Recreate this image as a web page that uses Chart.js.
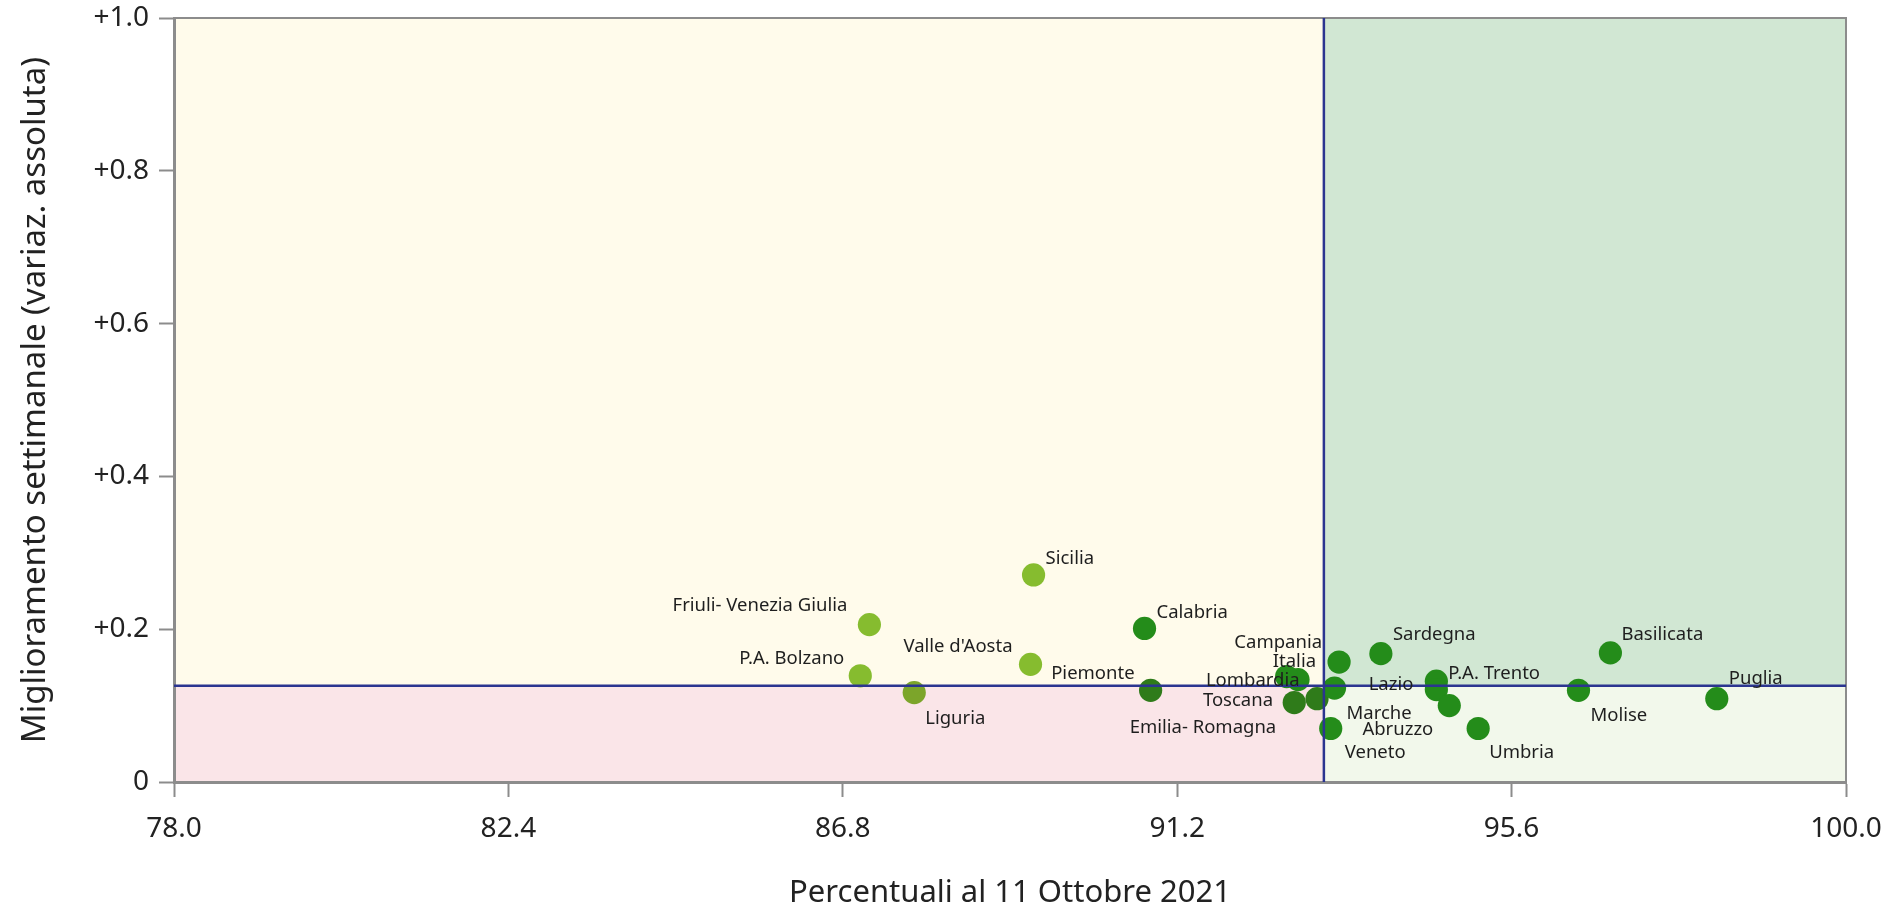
<!DOCTYPE html>
<html>
<head>
<meta charset="utf-8">
<script src="https://cdn.jsdelivr.net/npm/chart.js@4"></script>
<style>
  html, body { margin: 0; padding: 0; background: #fff; }
  #wrap { width: 1885px; height: 912px; position: relative; }
</style>
</head>
<body>
<div id="wrap"><canvas id="scatterChart"></canvas></div>
<script>
// data
const regions = ["Sicilia", "Friuli- Venezia Giulia", "Valle d'Aosta", "P.A. Bolzano", "Liguria",
    "Piemonte", "Calabria", "Campania", "Italia", "Lombardia", "Toscana", "Emilia- Romagna",
    "Veneto", "Marche", "Sardegna", "Lazio", "P.A. Trento", "Abruzzo", "Umbria", "Molise",
    "Basilicata", "Puglia"];
const coverage = [89.31, 87.15, 89.27, 87.03, 87.74, 90.85, 90.77, 93.33, 92.79, 92.64, 93.04, 92.74,
    93.22, 93.27, 93.88, 94.61, 94.61, 94.78, 95.16, 96.48, 96.90, 98.30];
const weeklyChange = [0.271, 0.206, 0.154, 0.139, 0.117, 0.120, 0.201, 0.157, 0.134, 0.138, 0.109, 0.104,
    0.070, 0.123, 0.168, 0.132, 0.121, 0.100, 0.070, 0.120, 0.169, 0.109];
const xTicks = [78.0, 82.4, 86.8, 91.2, 95.6, 100.0];
const yTicks = [0, 0.2, 0.4, 0.6, 0.8, 1.0];
const refX = 93.13;
const refY = 0.126;

// where each label sits next to its dot: [dx, dy, align]
const labelPlacement = {
    "Sicilia": [12, -16, "left"],
    "Friuli- Venezia Giulia": [-22, -19, "right"],
    "Valle d'Aosta": [-18, -18, "right"],
    "P.A. Bolzano": [-16, -17, "right"],
    "Liguria": [11, 26, "left"],
    "Piemonte": [-16, -17, "right"],
    "Calabria": [12, -16, "left"],
    "Campania": [-17, -19, "right"],
    "Italia": [18, -18, "right"],
    "Lombardia": [13, 4, "right"],
    "Toscana": [-44, 2, "right"],
    "Emilia- Romagna": [-18, 25, "right"],
    "Veneto": [14, 24, "left"],
    "Marche": [12, 26, "left"],
    "Sardegna": [12, -19, "left"],
    "Lazio": [-23, 4, "right"],
    "P.A. Trento": [12, -16, "left"],
    "Abruzzo": [-16, 24, "right"],
    "Umbria": [11, 24, "left"],
    "Molise": [12, 25, "left"],
    "Basilicata": [11, -18, "left"],
    "Puglia": [12, -20, "left"]
};

const axisGray = "#8c8c8c";
const refBlue = "#2b3590";

const quadrants = {
    id: "quadrants",
    beforeDraw(chart) {
        const { ctx, chartArea: a, scales } = chart;
        const mx = scales.x.getPixelForValue(refX);
        const my = scales.y.getPixelForValue(refY);
        ctx.save();
        ctx.fillStyle = "#fffbeb";
        ctx.fillRect(a.left, a.top, mx - a.left, my - a.top);
        ctx.fillStyle = "#d1e7d3";
        ctx.fillRect(mx, a.top, a.right - mx, my - a.top);
        ctx.fillStyle = "#fae5e8";
        ctx.fillRect(a.left, my, mx - a.left, a.bottom - my);
        ctx.fillStyle = "#f2f8eb";
        ctx.fillRect(mx, my, a.right - mx, a.bottom - my);
        // top and right frame
        ctx.strokeStyle = axisGray;
        ctx.lineWidth = 2;
        ctx.beginPath();
        ctx.moveTo(a.left, a.top);
        ctx.lineTo(a.right, a.top);
        ctx.lineTo(a.right, a.bottom);
        ctx.stroke();
        ctx.restore();
    },
    afterDatasetsDraw(chart) {
        const { ctx, chartArea: a, scales } = chart;
        const mx = scales.x.getPixelForValue(refX);
        const my = scales.y.getPixelForValue(refY);
        ctx.save();
        ctx.strokeStyle = refBlue;
        ctx.lineWidth = 2.5;
        ctx.beginPath();
        ctx.moveTo(mx, a.top);
        ctx.lineTo(mx, a.bottom);
        ctx.moveTo(a.left, my);
        ctx.lineTo(a.right, my);
        ctx.stroke();

        ctx.font = "18.5px 'Noto Sans'";
        ctx.fillStyle = "#1e1e1e";
        ctx.textBaseline = "middle";
        const meta = chart.getDatasetMeta(0);
        meta.data.forEach((pt, i) => {
            const place = labelPlacement[regions[i]] || [12, -16, "left"];
            ctx.textAlign = place[2];
            ctx.fillText(regions[i], pt.x + place[0], pt.y + place[1]);
        });
        ctx.restore();
    }
};

function dotColor(c) {
    const p = c.raw;
    if (!p) return "#248c1a";
    if (p.x < 90) return p.y < refY ? "#7ca52a" : "#86bc2f";
    return (p.y < refY && p.x < refX) ? "#2f7b1a" : "#248c1a";
}

const points = regions.map((r, i) => ({ x: coverage[i], y: weeklyChange[i] }));

new Chart(document.getElementById("scatterChart"), {
    type: "scatter",
    data: {
        datasets: [{
            data: points,
            backgroundColor: dotColor,
            borderWidth: 0,
            pointRadius: 11.6,
            pointHoverRadius: 11.6
        }]
    },
    plugins: [quadrants],
    options: {
        responsive: true,
        maintainAspectRatio: false,
        animation: false,
        events: [],
        layout: { padding: { top: 18, right: 39, left: 0, bottom: 0 } },
        plugins: {
            legend: { display: false },
            tooltip: { enabled: false }
        },
        scales: {
            x: {
                type: "linear",
                min: 78,
                max: 100,
                afterFit: s => {
                    s.height = 130;
                    s.paddingLeft = 0;
                    s.paddingRight = 0;
                },
                afterBuildTicks: s => { s.ticks = xTicks.map(v => ({ value: v })); },
                grid: { drawOnChartArea: false, tickLength: 15, tickWidth: 2, color: axisGray },
                border: { display: true, color: axisGray, width: 3 },
                ticks: {
                    color: "#222",
                    padding: 15,
                    font: { family: "'Noto Sans'", size: 28 },
                    callback: v => Number(v).toFixed(1)
                },
                title: {
                    display: true,
                    text: "Percentuali al 11 Ottobre 2021",
                    color: "#222",
                    font: { family: "'Noto Sans'", size: 31 },
                    padding: { top: 0, bottom: 0 }
                }
            },
            y: {
                type: "linear",
                min: 0,
                max: 1,
                afterFit: s => {
                    s.width = 174;
                    s.paddingTop = 0;
                    s.paddingBottom = 0;
                },
                afterBuildTicks: s => { s.ticks = yTicks.map(v => ({ value: v })); },
                grid: { drawOnChartArea: false, tickLength: 15, tickWidth: 2, color: axisGray },
                border: { display: true, color: axisGray, width: 3 },
                ticks: {
                    color: "#222",
                    padding: 10,
                    font: { family: "'Noto Sans'", size: 28 },
                    callback: v => v === 0 ? "0" : "+" + Number(v).toFixed(1)
                },
                title: {
                    display: true,
                    text: "Miglioramento settimanale (variaz. assoluta)",
                    color: "#222",
                    font: { family: "'Noto Sans'", size: 33 },
                    padding: { top: 16, bottom: 0 }
                }
            }
        }
    }
});
</script>
</body>
</html>
